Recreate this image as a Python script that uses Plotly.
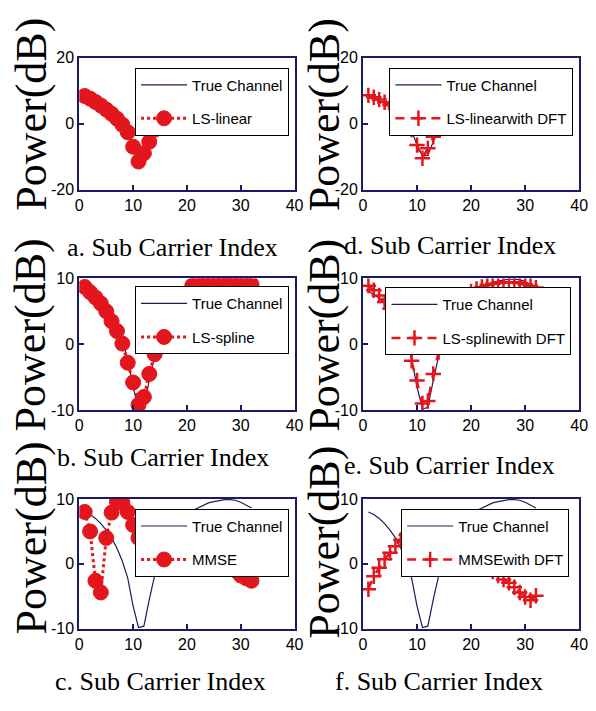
import plotly.graph_objects as go

# ---------------- data ----------------
subcarrier = list(range(1, 33))

true_channel = [8.0, 7.6, 7.0, 6.2, 5.2, 4.0, 2.4, 0.4, -2.2, -6.5, -9.8, -9.6,
                -5.5, -1.8, 0.8, 2.9, 4.5, 5.8, 6.8, 7.6, 8.2, 8.6, 9.0, 9.4,
                9.6, 9.8, 9.9, 9.9, 9.8, 9.5, 9.1, 8.6]

ls_linear = [8.4, 7.6, 6.6, 5.5, 4.3, 3.0, 1.5, -0.3, -2.6, -7.0, -11.5, -9.0,
             -5.5, -1.8, 0.8, 2.9, 4.5, 5.8, 6.8, 7.6, 8.2, 8.6, 9.0, 9.4,
             9.6, 9.8, 9.9, 9.9, 9.8, 9.5, 9.1, 8.6]

ls_spline = [8.7, 7.9, 7.1, 6.2, 5.0, 3.5, 2.0, 0.1, -2.8, -5.8, -9.2, -8.0,
             -4.5, -1.5, 1.0, 3.0, 4.8, 6.3, 6.9, 7.6, 8.9, 9.1, 9.2, 9.3,
             9.4, 9.4, 9.4, 9.4, 9.3, 9.3, 9.2, 9.1]

mmse = [8.0, 5.0, -2.6, -4.4, 4.0, 7.9, 9.6, 9.4, 8.0, 6.0, 4.0, 2.5,
        1.5, 1.0, 1.2, 2.0, 3.0, 3.5, 3.0, 2.0, 1.0, 0.5, 1.0, 2.0,
        2.5, 2.0, 1.0, 0.0, -1.0, -1.8, -2.2, -2.6]

ls_linear_dft = [8.6, 8.0, 7.3, 6.5, 5.6, 4.6, 3.2, 1.2, -1.8, -6.5, -10.5, -7.5,
                 -4.0, -1.0, 1.5, 3.3, 4.8, 6.0, 7.0, 7.8, 8.4, 8.8, 9.1, 9.4,
                 9.6, 9.7, 9.8, 9.7, 9.6, 9.3, 9.0, 8.6]

ls_spline_dft = [8.9, 8.2, 7.4, 6.4, 5.4, 4.2, 2.6, 0.6, -2.5, -5.5, -9.0, -8.6,
                 -4.5, -1.2, 1.5, 3.6, 5.2, 6.5, 7.4, 8.0, 8.4, 8.7, 9.0, 9.2,
                 9.3, 9.4, 9.4, 9.4, 9.3, 9.1, 8.9, 8.6]

mmse_dft = [-3.9, -1.9, -0.6, 0.7, 1.7, 2.7, 3.7, 4.5, 5.0, 5.3, 5.4, 5.3,
            5.0, 4.6, 4.1, 3.6, 3.0, 2.4, 1.8, 1.2, 0.6, 0.0, -0.6, -1.2,
            -1.8, -2.4, -2.9, -3.6, -4.4, -5.1, -5.6, -4.9]

x_tickvals = [0, 10, 20, 30, 40]
y_tickvals_20 = [-20, 0, 20]
y_ticktext_20 = ["-20", "0", "20"]
y_tickvals_10 = [-10, 0, 10]
y_ticktext_10 = ["-10", "0", "10"]

true_name = "True Channel"
estimate_names = ["LS-linear", "LS-spline", "MMSE",
                  "LS-linearwith DFT", "LS-splinewith DFT", "MMSEwith DFT"]
panel_titles = ["a. Sub Carrier Index", "b. Sub Carrier Index", "c. Sub Carrier Index",
                "d. Sub Carrier Index", "e. Sub Carrier Index", "f. Sub Carrier Index"]
y_title = "Power(dB)"

# ---------------- layout ----------------
W, H = 596, 711
RED = "#e3161d"
NAVY = "#1c1c5a"
FRAME = "#1a1a66"
SERIF = "Liberation Serif, Times New Roman, serif"
SANS = "Liberation Sans, Arial, sans-serif"


def fx(px):  # page pixel -> paper x
    return px / W


def fy(py):  # page pixel -> paper y
    return 1 - py / H


estimates = [ls_linear, ls_spline, mmse, ls_linear_dft, ls_spline_dft, mmse_dft]
dft_flags = [False, False, False, True, True, True]

# plot boxes in page pixels (x0, x1) and (ytop, ybottom)
col_x = [(77, 297), (367, 588)]
row_y = [(51, 186), (277, 412), (503, 636)]
panel_grid = [(0, 0), (1, 0), (2, 0), (0, 1), (1, 1), (2, 1)]  # (row, col)
yticks = [(y_tickvals_20, y_ticktext_20, [-20, 20]),
          (y_tickvals_10, y_ticktext_10, [-10, 10]),
          (y_tickvals_10, y_ticktext_10, [-10, 10]),
          (y_tickvals_20, y_ticktext_20, [-20, 20]),
          (y_tickvals_10, y_ticktext_10, [-10, 10]),
          (y_tickvals_10, y_ticktext_10, [-10, 10])]
legend_pos = [(134, 61), (134, 285), (134, 513), (394, 61), (390, 286), (406, 513)]
title_pos = [(172, 245), (163, 461), (160, 690), (456, 243), (455, 469), (445, 690)]
ylabel_pos = [(28, 109), (28, 335), (28, 543), (328, 109), (328, 335), (328, 547)]

fig = go.Figure()
layout = dict(
    width=W, height=H,
    margin=dict(l=0, r=0, t=0, b=0),
    paper_bgcolor="white", plot_bgcolor="white",
    showlegend=True,
    annotations=[],
)

for i in range(6):
    n = i + 1
    sfx = "" if n == 1 else str(n)
    xa, ya = "x" + sfx, "y" + sfx
    leg = "legend" + sfx
    r, c = panel_grid[i]
    x0, x1 = col_x[c]
    yt, yb = row_y[r]

    fig.add_trace(go.Scatter(
        x=subcarrier, y=true_channel, mode="lines", name=true_name,
        line=dict(color=NAVY, width=1.2), xaxis=xa, yaxis=ya,
        legend=leg, legendgroup="true" + sfx))

    if dft_flags[i]:
        est_line = dict(color=RED, width=2.5, dash="dash")
        est_marker = dict(symbol="cross-thin", size=11, color=RED,
                          line=dict(color=RED, width=2.5))
    else:
        est_line = dict(color=RED, width=3, dash="dot")
        est_marker = dict(symbol="circle", size=15, color=RED,
                          line=dict(color=RED, width=1))
    fig.add_trace(go.Scatter(
        x=subcarrier, y=estimates[i], mode="lines+markers", name=estimate_names[i],
        line=est_line, marker=est_marker, xaxis=xa, yaxis=ya,
        legend=leg, legendgroup="est" + sfx))

    tv, tt, yr = yticks[i]
    layout["xaxis" + sfx] = dict(domain=[fx(x0), fx(x1)], anchor=ya, range=[0, 40],
                                 tickvals=x_tickvals)
    layout["yaxis" + sfx] = dict(domain=[fy(yb), fy(yt)], anchor=xa, range=yr,
                                 tickvals=tv, ticktext=tt)

    lx, ly = legend_pos[i]
    layout[leg] = dict(x=fx(lx), y=fy(ly), xanchor="left", yanchor="top",
                       bgcolor="white", bordercolor="black", borderwidth=1,
                       font=dict(family=SANS, size=15, color="black"),
                       itemwidth=46, tracegroupgap=11, traceorder="grouped")

    tx, ty = title_pos[i]
    layout["annotations"].append(dict(
        text=panel_titles[i], xref="paper", yref="paper", x=fx(tx), y=fy(ty),
        xanchor="center", yanchor="middle", showarrow=False,
        font=dict(family=SERIF, size=26, color="black")))
    px, py = ylabel_pos[i]
    layout["annotations"].append(dict(
        text=y_title, xref="paper", yref="paper", x=fx(px), y=fy(py),
        xanchor="center", yanchor="middle", showarrow=False, textangle=-90,
        font=dict(family=SERIF, size=44, color="black")))

fig.update_layout(**layout)
axis_style = dict(showline=True, linecolor=FRAME, linewidth=2, mirror=True,
                  ticks="inside", ticklen=5, tickcolor=FRAME, tickwidth=2,
                  showgrid=False, zeroline=False,
                  tickfont=dict(family=SANS, size=16, color="black"))
fig.update_xaxes(**axis_style)
fig.update_yaxes(**axis_style)
fig.write_html("out.html")
